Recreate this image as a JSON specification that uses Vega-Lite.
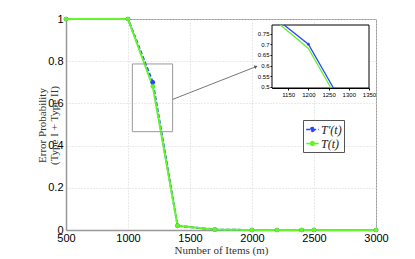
{
  "$schema": "https://vega.github.io/schema/vega-lite/v6.json",
  "width": 310,
  "height": 211,
  "autosize": {"type": "none"},
  "padding": {"left": 66, "top": 19, "right": 39, "bottom": 29},
  "background": "white",
  "datasets": {
    "main": [
      {"n": 500, "p": 1, "s": "T′(t)"},
      {"n": 1000, "p": 1, "s": "T′(t)"},
      {"n": 1200, "p": 0.70, "s": "T′(t)"},
      {"n": 1400, "p": 0.02, "s": "T′(t)"},
      {"n": 1700, "p": 0.002, "s": "T′(t)"},
      {"n": 2000, "p": 0, "s": "T′(t)"},
      {"n": 2200, "p": 0, "s": "T′(t)"},
      {"n": 2400, "p": 0, "s": "T′(t)"},
      {"n": 2500, "p": 0, "s": "T′(t)"},
      {"n": 3000, "p": 0, "s": "T′(t)"},
      {"n": 500, "p": 1, "s": "T(t)"},
      {"n": 1000, "p": 1, "s": "T(t)"},
      {"n": 1200, "p": 0.68, "s": "T(t)"},
      {"n": 1400, "p": 0.02, "s": "T(t)"},
      {"n": 1700, "p": 0.002, "s": "T(t)"},
      {"n": 2000, "p": 0, "s": "T(t)"},
      {"n": 2200, "p": 0, "s": "T(t)"},
      {"n": 2400, "p": 0, "s": "T(t)"},
      {"n": 2500, "p": 0, "s": "T(t)"},
      {"n": 3000, "p": 0, "s": "T(t)"}
    ],
    "zoom": [
      {"n": 1140, "p": 0.79, "s": "T′(t)"},
      {"n": 1200, "p": 0.70, "s": "T′(t)"},
      {"n": 1262, "p": 0.495, "s": "T′(t)"},
      {"n": 1131, "p": 0.79, "s": "T(t)"},
      {"n": 1200, "p": 0.68, "s": "T(t)"},
      {"n": 1256, "p": 0.495, "s": "T(t)"}
    ],
    "zoompts": [
      {"n": 1200, "p": 0.70, "s": "T′(t)"}
    ],
    "box": [{"x1": 1035, "x2": 1360, "y1": 0.466, "y2": 0.787}],
    "arrow": [{"x1": 1360, "y1": 0.619, "x2": 2032, "y2": 0.774}],
    "frame": [{"x1": 1110, "x2": 1350, "y1": 0.495, "y2": 0.79}]
  },
  "config": {
    "view": {"stroke": "#999", "strokeWidth": 1},
    "axis": {
      "labelFont": "Liberation Sans",
      "labelColor": "#000",
      "labelFlush": false,
      "labelOverlap": false,
      "titleFont": "Liberation Serif",
      "titleFontWeight": "normal",
      "titleColor": "#333"
    }
  },
  "layer": [
    {
      "layer": [
        {
          "data": {"name": "main"},
          "mark": {"type": "line", "strokeWidth": 2},
          "encoding": {
            "x": {
              "field": "n", "type": "quantitative", "title": "Number of Items (m)",
              "scale": {"domain": [500, 3000], "nice": false, "zero": false},
              "axis": {
                "values": [500, 1000, 1500, 2000, 2500, 3000], "format": "d",
                "labelFontSize": 11, "labelPadding": 2, "ticks": false,
                "grid": true, "gridColor": "#d5d5d5", "gridDash": [1, 2],
                "domainColor": "#999", "domainWidth": 1.5,
                "titleFontSize": 11, "titlePadding": 1
              }
            },
            "y": {
              "field": "p", "type": "quantitative", "title": ["Error Probability", "(Type I + Type II)"],
              "scale": {"domain": [0, 1], "nice": false},
              "axis": {
                "values": [0, 0.2, 0.4, 0.6, 0.8, 1], "format": "~g",
                "labelFontSize": 11, "labelPadding": 3, "ticks": false,
                "grid": true, "gridColor": "#d5d5d5", "gridDash": [1, 2],
                "domainColor": "#999", "domainWidth": 1.5,
                "titleFontSize": 11, "titleLineHeight": 12,
                "titleX": -19, "titleY": 106, "titleAngle": 270,
                "titleAlign": "center", "titleBaseline": "bottom"
              }
            },
            "color": {
              "field": "s", "type": "nominal", "sort": null,
              "scale": {"domain": ["T′(t)", "T(t)"], "range": ["#2a44ff", "#62f52a"]},
              "legend": {
                "orient": "none", "legendX": 237, "legendY": 101, "title": null,
                "labelFont": "Liberation Serif", "labelFontStyle": "italic", "labelFontSize": 12,
                "labelColor": "#222",
                "strokeColor": "#555", "fillColor": "white", "padding": 2, "rowPadding": 0,
                "symbolType": "M-1,0H1M0.3,0A0.3,0.3 0 1,1 -0.3,0A0.3,0.3 0 1,1 0.3,0",
                "symbolSize": 160, "symbolStrokeWidth": 1.5, "labelOffset": 1,
                "encode": {
                  "symbols": {
                    "update": {
                      "fill": {"scale": "color", "field": "value"},
                      "stroke": {"scale": "color", "field": "value"},
                      "strokeDash": {"signal": "datum.value == 'T(t)' ? [] : [2, 1.5]"}
                    }
                  }
                }
              }
            },
            "strokeDash": {
              "field": "s", "type": "nominal",
              "scale": {"domain": ["T′(t)", "T(t)"], "range": [[4, 2], [1, 0]]},
              "legend": null
            }
          }
        },
        {
          "data": {"name": "main"},
          "mark": {"type": "point", "filled": true, "size": 22, "opacity": 1},
          "encoding": {
            "x": {"field": "n", "type": "quantitative", "title": "Number of Items (m)"},
            "y": {"field": "p", "type": "quantitative", "title": ["Error Probability", "(Type I + Type II)"]},
            "color": {"field": "s", "type": "nominal", "sort": null}
          }
        },
        {
          "data": {"name": "box"},
          "mark": {"type": "rect", "fill": null, "fillOpacity": 0, "stroke": "#999", "strokeWidth": 1},
          "encoding": {
            "x": {"field": "x1", "type": "quantitative", "title": "Number of Items (m)"},
            "x2": {"field": "x2"},
            "y": {"field": "y1", "type": "quantitative", "title": ["Error Probability", "(Type I + Type II)"]},
            "y2": {"field": "y2"}
          }
        },
        {
          "data": {"name": "arrow"},
          "mark": {"type": "rule", "stroke": "#777", "strokeWidth": 1},
          "encoding": {
            "x": {"field": "x1", "type": "quantitative", "title": "Number of Items (m)"},
            "x2": {"field": "x2"},
            "y": {"field": "y1", "type": "quantitative", "title": ["Error Probability", "(Type I + Type II)"]},
            "y2": {"field": "y2"}
          }
        },
        {
          "data": {"name": "arrow"},
          "mark": {"type": "point", "shape": "triangle-right", "filled": true, "color": "#555", "size": 14, "angle": 338, "opacity": 1},
          "encoding": {
            "x": {"field": "x2", "type": "quantitative", "title": "Number of Items (m)"},
            "y": {"field": "y2", "type": "quantitative", "title": ["Error Probability", "(Type I + Type II)"]}
          }
        }
      ]
    },
    {
      "layer": [
        {
          "data": {"name": "frame"},
          "mark": {"type": "rect", "fill": "white", "stroke": "#000", "strokeWidth": 1},
          "encoding": {
            "x": {
              "field": "x1", "type": "quantitative", "title": null,
              "scale": {"domain": [1110, 1350], "nice": false, "zero": false, "range": [206, 303]},
              "axis": {
                "orient": "bottom", "offset": -142, "values": [1150, 1200, 1250, 1300, 1350], "format": "d",
                "labelFontSize": 6, "labelPadding": 1, "tickSize": 2, "grid": false,
                "domainColor": "#000", "tickColor": "#000", "title": null
              }
            },
            "x2": {"field": "x2"},
            "y": {
              "field": "y1", "type": "quantitative", "title": null,
              "scale": {"domain": [0.495, 0.79], "nice": false, "zero": false, "range": [69, 6]},
              "axis": {
                "orient": "left", "offset": -206, "values": [0.5, 0.55, 0.6, 0.65, 0.7, 0.75], "format": "~g",
                "labelFontSize": 6, "labelPadding": 1, "tickSize": 2, "grid": false,
                "domainColor": "#000", "tickColor": "#000", "title": null
              }
            },
            "y2": {"field": "y2"}
          }
        },
        {
          "data": {"name": "zoom"},
          "mark": {"type": "line", "strokeWidth": 1.3},
          "encoding": {
            "x": {"field": "n", "type": "quantitative", "title": null},
            "y": {"field": "p", "type": "quantitative", "title": null},
            "color": {"field": "s", "type": "nominal", "sort": null}
          }
        },
        {
          "data": {"name": "zoompts"},
          "mark": {"type": "point", "filled": true, "size": 8, "opacity": 1},
          "encoding": {
            "x": {"field": "n", "type": "quantitative", "title": null},
            "y": {"field": "p", "type": "quantitative", "title": null},
            "color": {"field": "s", "type": "nominal", "sort": null}
          }
        }
      ]
    }
  ],
  "resolve": {"scale": {"x": "independent", "y": "independent"}}
}
